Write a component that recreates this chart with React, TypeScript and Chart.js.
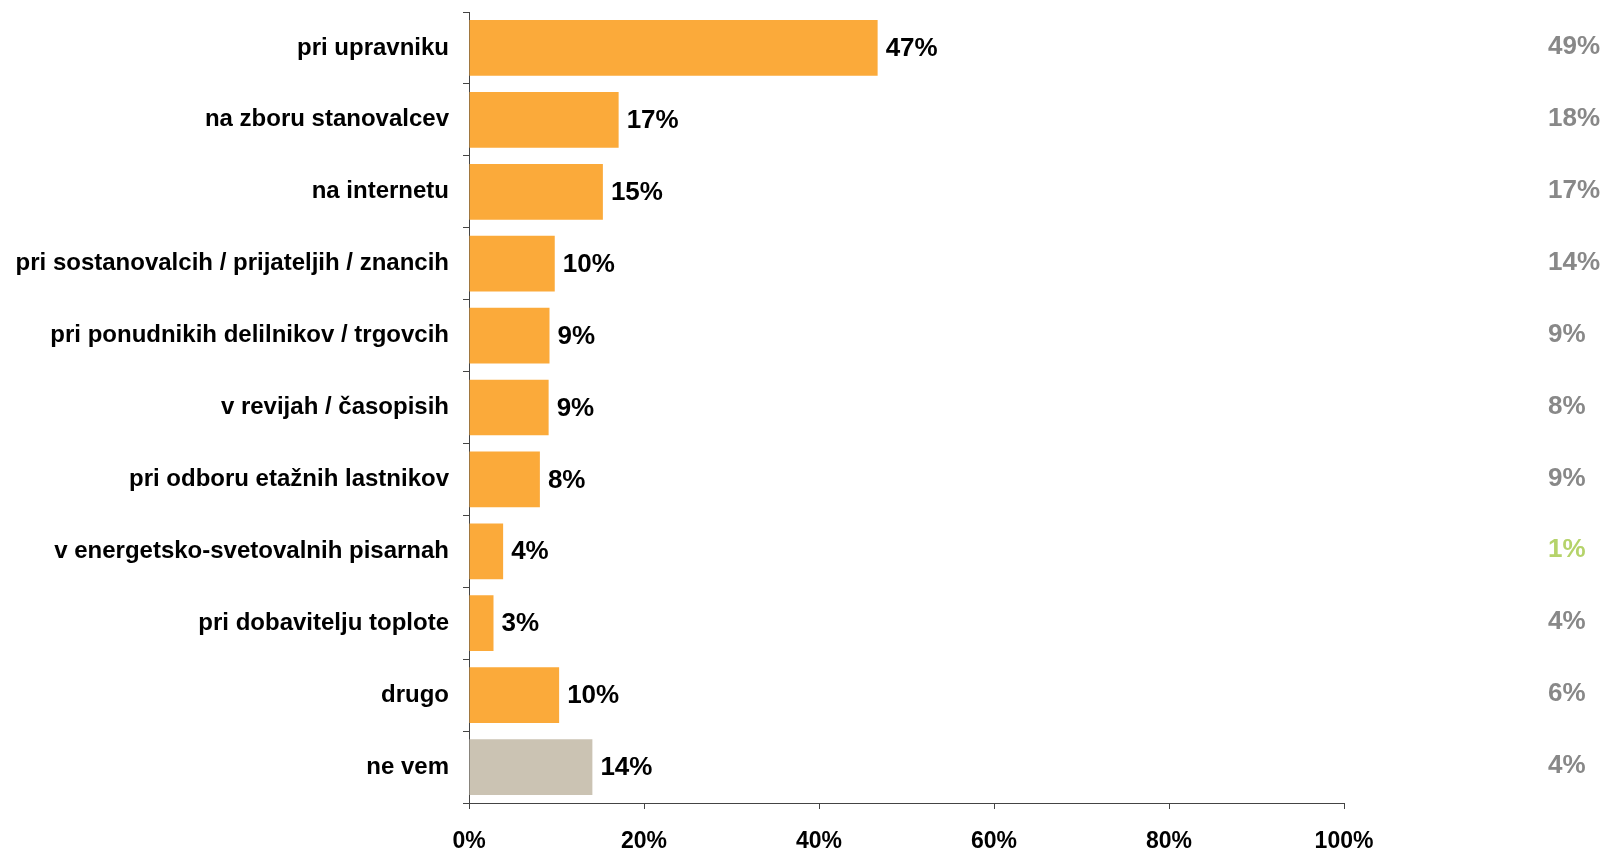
import React, { useEffect, useRef } from "react";
import { Chart, registerables } from "chart.js";

Chart.register(...registerables);

const categories = [
  "pri upravniku",
  "na zboru stanovalcev",
  "na internetu",
  "pri sostanovalcih / prijateljih / znancih",
  "pri ponudnikih delilnikov / trgovcih",
  "v revijah / časopisih",
  "pri odboru etažnih lastnikov",
  "v energetsko-svetovalnih pisarnah",
  "pri dobavitelju toplote",
  "drugo",
  "ne vem",
];

const currentValues = [46.7, 17.1, 15.3, 9.8, 9.2, 9.1, 8.1, 3.9, 2.8, 10.3, 14.1];
const previousValues = [49, 18, 17, 14, 9, 8, 9, 1, 4, 6, 4];
const previousColors = [
  "#888888", "#888888", "#888888", "#888888", "#888888", "#888888",
  "#888888", "#B5D36A", "#888888", "#888888", "#888888",
];
const barColors = [
  "#FBAA3A", "#FBAA3A", "#FBAA3A", "#FBAA3A", "#FBAA3A", "#FBAA3A",
  "#FBAA3A", "#FBAA3A", "#FBAA3A", "#FBAA3A", "#CBC3B3",
];
const xTicks = [0, 20, 40, 60, 80, 100];

const FONT = "'Liberation Sans', Arial, Helvetica, sans-serif";

const labelsPlugin = {
  id: "valueLabels",
  afterDatasetsDraw(chart: any) {
    const ctx = chart.ctx;
    const meta = chart.getDatasetMeta(0);
    ctx.save();
    ctx.textBaseline = "middle";
    meta.data.forEach((bar: any, i: number) => {
      ctx.font = `bold 26px ${FONT}`;
      ctx.fillStyle = "#000000";
      ctx.textAlign = "left";
      ctx.fillText(Math.round(currentValues[i]) + "%", bar.x + 8, bar.y + 1);
      ctx.fillStyle = previousColors[i];
      ctx.fillText(previousValues[i] + "%", 1548, bar.y - 1);
    });
    ctx.restore();
  },
};

export default function App() {
  const ref = useRef<HTMLCanvasElement | null>(null);
  useEffect(() => {
    if (!ref.current) return;
    const chart = new Chart(ref.current, {
      type: "bar",
      data: {
        labels: categories,
        datasets: [
          {
            data: currentValues,
            backgroundColor: barColors,
            borderWidth: 0,
            barPercentage: 0.775,
            categoryPercentage: 1,
          },
        ],
      },
      options: {
        indexAxis: "y",
        animation: false,
        responsive: false,
        devicePixelRatio: 1,
        layout: { padding: { top: 12, right: 259, left: 0, bottom: 0 } },
        plugins: { legend: { display: false }, tooltip: { enabled: false } },
        scales: {
          y: {
            type: "category",
            afterFit: (s: any) => {
              s.width = 469;
              s.paddingTop = 0;
              s.paddingBottom = 0;
            },
            grid: {
              drawOnChartArea: false,
              offset: true,
              tickLength: 6,
              color: "#444444",
            },
            border: { color: "#444444", width: 1 },
            ticks: {
              color: "#000000",
              padding: 14,
              font: { family: FONT, size: 24, weight: "bold" },
            },
          },
          x: {
            min: 0,
            max: 100,
            afterFit: (s: any) => {
              s.height = 48;
              s.paddingLeft = 0;
              s.paddingRight = 0;
            },
            afterBuildTicks: (s: any) => {
              s.ticks = xTicks.map((v) => ({ value: v }));
            },
            grid: {
              drawOnChartArea: false,
              tickLength: 6,
              color: "#444444",
            },
            border: { color: "#444444", width: 1 },
            ticks: {
              color: "#000000",
              padding: 19,
              font: { family: FONT, size: 23, weight: "bold" },
              callback: (v: any) => v + "%",
            },
          },
        },
      },
      plugins: [labelsPlugin],
    } as any);
    return () => chart.destroy();
  }, []);
  return (
    <div style={{ position: "absolute", left: 0, top: 0, width: 1603, height: 851, overflow: "hidden", background: "#fff" }}>
      <canvas ref={ref} width={1603} height={851} style={{ display: "block" }} />
    </div>
  );
}
